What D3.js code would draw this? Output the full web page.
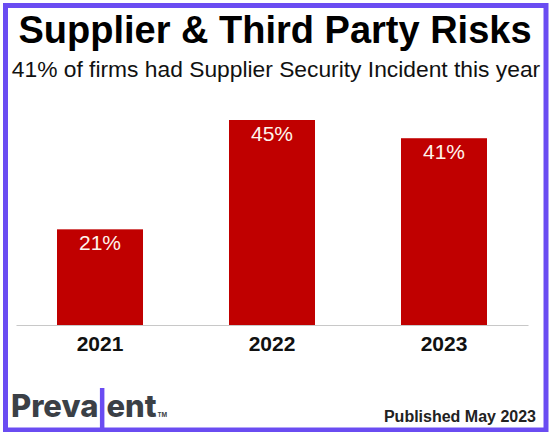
<!DOCTYPE html>
<html>
<head>
<meta charset="utf-8">
<script src="https://cdn.jsdelivr.net/npm/d3@7"></script>
<style>
  html, body { margin: 0; padding: 0; background: #ffffff; }
  svg { display: block; }
</style>
</head>
<body>
<svg id="chart" width="549" height="432"></svg>
<script>
const categories = ["2021", "2022", "2023"];
const values = [21, 45, 41];
const valueLabels = ["21%", "45%", "41%"];
const titleText = "Supplier & Third Party Risks";
const subtitleText = "41% of firms had Supplier Security Incident this year";
const sourceText = "Published May 2023";

const W = 549, H = 432;
const svg = d3.select("#chart");
const FONT = "'Liberation Sans', Arial, Helvetica, sans-serif";

svg.append("rect").attr("x", 0).attr("y", 0).attr("width", W).attr("height", H).attr("fill", "#ffffff");

const x = d3.scaleBand().domain(categories).range([16, 528])
  .paddingInner(0.5).paddingOuter(0.2384);
const y = d3.scaleLinear().domain([0, 45]).range([325, 120]);

// Title
svg.append("text").attr("x", 275).attr("y", 43)
  .attr("text-anchor", "middle").attr("font-family", FONT)
  .attr("font-weight", "bold").attr("font-size", 38).attr("fill", "#000")
  .text(titleText);
svg.append("text").attr("x", 276).attr("y", 77)
  .attr("text-anchor", "middle").attr("font-family", FONT)
  .attr("font-size", 22.8).attr("fill", "#111")
  .text(subtitleText);

// Bars
svg.append("g").selectAll("rect").data(values).join("rect")
  .attr("x", (d, i) => x(categories[i]))
  .attr("y", d => y(d))
  .attr("width", x.bandwidth())
  .attr("height", d => y(0) - y(d))
  .attr("fill", "#c00000");

// Value labels
svg.append("g").selectAll("text").data(values).join("text")
  .attr("x", (d, i) => x(categories[i]) + x.bandwidth() / 2)
  .attr("y", d => y(d) + 21)
  .attr("text-anchor", "middle").attr("font-family", FONT)
  .attr("font-size", 21).attr("fill", "#fff4ec")
  .text((d, i) => valueLabels[i]);

// Axis
const xAxis = svg.append("g").attr("transform", `translate(0,${y(0)})`)
  .call(d3.axisBottom(x).tickSize(0).tickPadding(11));
xAxis.select(".domain").attr("stroke", "#c8c8c8").attr("stroke-width", 1.2);
xAxis.selectAll("text").attr("font-family", FONT).attr("font-weight", "bold")
  .attr("font-size", 21).attr("fill", "#111");

// Source
svg.append("text").attr("x", 536).attr("y", 422)
  .attr("text-anchor", "end").attr("font-family", FONT)
  .attr("font-weight", "bold").attr("font-size", 16).attr("fill", "#222")
  .text(sourceText);

// Logo
const LOGOFONT = "Inter, 'Open Sans', sans-serif";
const logo = svg.append("g");
const t1 = logo.append("text").attr("x", 11).attr("y", 417)
  .attr("font-family", LOGOFONT).attr("font-weight", 800).attr("font-size", 31)
  .attr("fill", "#3b4046").attr("letter-spacing", 0).text("Preva");
const w1 = t1.node().getComputedTextLength();
const barX = 11 + w1 + 1.5;
logo.append("rect").attr("x", barX).attr("y", 388).attr("width", 4.5).attr("height", 40)
  .attr("fill", "#6a4cf2");
const t2 = logo.append("text").attr("x", barX + 6.5).attr("y", 417)
  .attr("font-family", LOGOFONT).attr("font-weight", 800).attr("font-size", 31)
  .attr("fill", "#3b4046").attr("letter-spacing", 0).text("ent");
const w2 = t2.node().getComputedTextLength();
logo.append("text").attr("x", barX + 6.5 + w2 + 1).attr("y", 417)
  .attr("font-family", LOGOFONT).attr("font-weight", 700).attr("font-size", 6)
  .attr("fill", "#3b4046").text("TM");

// Border
svg.append("rect").attr("x", 5.5).attr("y", 5.5).attr("width", 540.5).attr("height", 424.5)
  .attr("fill", "none").attr("stroke", "#6a4cf2").attr("stroke-width", 5);
</script>
</body>
</html>
